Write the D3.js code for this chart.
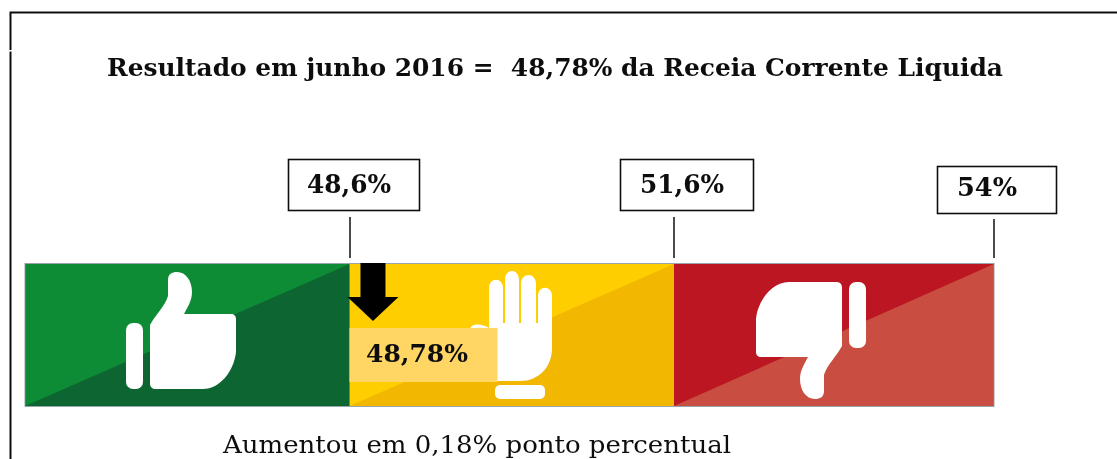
<!DOCTYPE html>
<html>
<head>
<meta charset="utf-8">
<script src="https://cdn.jsdelivr.net/npm/d3@7"></script>
<style>
html, body { margin: 0; padding: 0; background: #fff; overflow: hidden; }
svg { display: block; }
text { font-family: "DejaVu Serif", serif; font-stretch: condensed; fill: #111; }
</style>
</head>
<body>
<svg id="chart" width="1117" height="459"></svg>
<script>
// values
const limits = [45.6, 48.6, 51.6, 54];
const limitLabels = ["48,6%", "51,6%", "54%"];
const result = 48.78;
const resultLabel = "48,78%";
const titleText = "Resultado em junho 2016 =  48,78% da Receia Corrente Liquida";
const footerText = "Aumentou em 0,18% ponto percentual";

const bandBase = ["#0f8c36", "#ffce00", "#bb1622"];
const bandDiag = ["#0a6633", "#f2b700", "#c94e3f"];

// bands are not to scale in the original, so the scale is piecewise
const x = d3.scaleLinear().domain(limits).range([25, 349.5, 674, 994]);

const barTop = 264, barBottom = 406;

const svg = d3.select("#chart");

// soft look of the original screenshot
svg.append("defs").append("filter")
  .attr("id", "soft")
  .attr("x", 0).attr("y", 0).attr("width", "100%").attr("height", "100%")
  .append("feGaussianBlur").attr("stdDeviation", 0.5);

const root = svg.append("g").attr("filter", "url(#soft)");

root.append("rect").attr("width", 1117).attr("height", 459).attr("fill", "#fff");

// frame, open to the right and bottom
const frame = root.append("g").attr("stroke", "#111").attr("stroke-width", 2).attr("fill", "none");
frame.append("path").attr("d", "M10.5,50V12.5H1117");
frame.append("path").attr("d", "M10.5,51.5V459");

const bands = d3.range(3).map(i => ({ x0: x(limits[i]), x1: x(limits[i + 1]), base: bandBase[i], diag: bandDiag[i] }));

root.selectAll(".band").data(bands).join("rect")
  .attr("class", "band")
  .attr("x", d => d.x0)
  .attr("y", barTop)
  .attr("width", d => d.x1 - d.x0)
  .attr("height", barBottom - barTop)
  .attr("fill", d => d.base);

root.selectAll(".diag").data(bands).join("path")
  .attr("class", "diag")
  .attr("d", d => `M${d.x0},${barBottom}L${d.x1},${barTop}V${barBottom}Z`)
  .attr("fill", d => d.diag);

root.append("rect")
  .attr("x", x(limits[0])).attr("y", barTop - 0.5)
  .attr("width", x(limits[3]) - x(limits[0])).attr("height", barBottom - barTop + 1)
  .attr("fill", "none").attr("stroke", "#7f8f9a").attr("stroke-width", 0.8);

// icons, drawn around their own origin
const thumb = "M-10,27 V-31 C-4,-42 5,-50 8,-60 V-76 C8,-82 12,-84 17,-84 C26,-84 32,-75 32,-64 C32,-55 27,-48 24,-42 H71 C74,-42 76,-40 76,-37 V-4 C74,15 60,33 43,33 H-4 C-8,33 -10,31 -10,27Z";
const white = "#fff";

const up = root.append("g").attr("transform", "translate(160,356)").attr("fill", white);
up.append("rect").attr("x", -34).attr("y", -33).attr("width", 17).attr("height", 66).attr("rx", 7);
up.append("path").attr("d", thumb);

const down = root.append("g").attr("transform", "translate(832,315) rotate(180)").attr("fill", white);
down.append("rect").attr("x", -34).attr("y", -33).attr("width", 17).attr("height", 66).attr("rx", 7);
down.append("path").attr("d", thumb);

const hand = root.append("g").attr("transform", "translate(520,340)").attr("fill", white);
hand.append("path").attr("d",
  "M-31,-12 V-52 C-31,-63 -17,-63 -17,-52 V-17 H-15 V-60 C-15,-72 -1,-72 -1,-60 V-17 H1 V-56 C1,-68 16,-68 16,-56 V-17 H18 V-44 C18,-55 32,-55 32,-44 V8 C32,28 18,41 0,41 H-40 V-5 L-50,-10 C-50,-17 -38,-17 -31,-12Z");
hand.append("rect").attr("x", -25).attr("y", 45).attr("width", 50).attr("height", 14).attr("rx", 5);

// result marker
const markX = x(result);
root.append("rect")
  .attr("x", x(limits[1])).attr("y", 328)
  .attr("width", 148).attr("height", 54)
  .attr("fill", "#ffd664");
const arrowX = markX + 4;
root.append("path")
  .attr("d", `M${arrowX - 12.5},${barTop - 1}h25v34h13l-25.5,24l-25.5,-24h13z`)
  .attr("fill", "#000");
root.append("text")
  .attr("x", 366).attr("y", 361.5)
  .attr("font-size", 25).attr("font-weight", 700)
  .attr("textLength", 102).attr("lengthAdjust", "spacingAndGlyphs")
  .text(resultLabel);

// limit boxes and their tick lines
const boxLeft = [288.5, 620.5, 937.5];
const boxRight = [419.5, 753.5, 1056.5];
const boxTop = [159.5, 159.5, 166.5];
const boxBottom = [210.5, 210.5, 213.5];
const labelDx = [18.5, 19.5, 19.5];
const labelW = [84, 84, 60];
const tickTop = [217, 217, 219];

const marks = root.selectAll(".limit").data(limitLabels).join("g").attr("class", "limit");
marks.append("rect")
  .attr("x", (d, i) => boxLeft[i]).attr("y", (d, i) => boxTop[i])
  .attr("width", (d, i) => boxRight[i] - boxLeft[i])
  .attr("height", (d, i) => boxBottom[i] - boxTop[i])
  .attr("fill", "#fff").attr("stroke", "#111").attr("stroke-width", 1.6);
marks.append("text")
  .attr("x", (d, i) => boxLeft[i] + labelDx[i])
  .attr("y", (d, i) => boxBottom[i] - 18)
  .attr("font-size", 26).attr("font-weight", 700)
  .attr("textLength", (d, i) => labelW[i]).attr("lengthAdjust", "spacingAndGlyphs")
  .text(d => d);
marks.append("line")
  .attr("x1", (d, i) => x(limits[i + 1]) + (i < 1 ? 0.5 : 0)).attr("x2", (d, i) => x(limits[i + 1]) + (i < 1 ? 0.5 : 0))
  .attr("y1", (d, i) => tickTop[i]).attr("y2", 258)
  .attr("stroke", "#111").attr("stroke-width", 1.5);

// title and footer
root.append("text")
  .attr("x", 107).attr("y", 75.5)
  .attr("font-size", 25).attr("font-weight", 700)
  .style("white-space", "pre")
  .attr("textLength", 896).attr("lengthAdjust", "spacingAndGlyphs")
  .text(titleText);

root.append("text")
  .attr("x", 223).attr("y", 453)
  .attr("font-size", 25)
  .attr("textLength", 508).attr("lengthAdjust", "spacingAndGlyphs")
  .text(footerText);
</script>
</body>
</html>
